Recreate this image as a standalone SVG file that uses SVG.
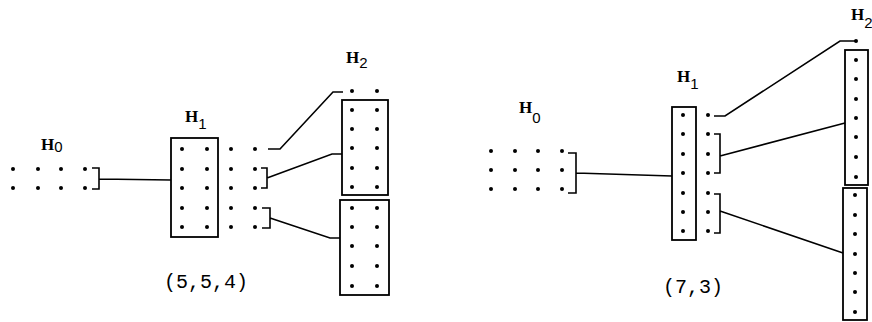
<svg xmlns="http://www.w3.org/2000/svg" width="872" height="322" viewBox="0 0 872 322">
<style>
.d{fill:#000}
.box{fill:none;stroke:#000;stroke-width:1.8}
.c{fill:none;stroke:#000;stroke-width:1.6;stroke-linejoin:miter}
.lbl{font-family:"Liberation Serif","DejaVu Serif",serif;font-weight:bold;font-size:17px;fill:#000}
.sub{font-family:"Liberation Sans","DejaVu Sans",sans-serif;font-weight:normal;font-size:15px}
.cap{font-family:"Liberation Mono","DejaVu Sans Mono",monospace;font-size:20px;fill:#000}
</style>
<rect width="872" height="322" fill="#fff"/>
<defs><circle id="dot" r="2" class="d"/></defs>

<!-- Left diagram -->
<g id="L-H0">
<text class="lbl" x="41" y="150">H<tspan class="sub" dy="2">0</tspan></text>
<g>
<use href="#dot" x="13" y="169"/><use href="#dot" x="38" y="169"/><use href="#dot" x="61" y="169"/><use href="#dot" x="85" y="169"/>
<use href="#dot" x="13" y="188"/><use href="#dot" x="38" y="188"/><use href="#dot" x="61" y="188"/><use href="#dot" x="85" y="188"/>
</g>
</g>
<g id="L-H1">
<text class="lbl" x="185" y="122">H<tspan class="sub" dy="7">1</tspan></text>
<rect class="box" x="171" y="138" width="47" height="99"/>
<use href="#dot" x="182" y="149"/><use href="#dot" x="207" y="149"/>
<use href="#dot" x="182" y="169"/><use href="#dot" x="207" y="169"/>
<use href="#dot" x="182" y="188"/><use href="#dot" x="207" y="188"/>
<use href="#dot" x="182" y="208"/><use href="#dot" x="207" y="208"/>
<use href="#dot" x="182" y="227"/><use href="#dot" x="207" y="227"/>
<use href="#dot" x="231" y="149"/><use href="#dot" x="255" y="149"/>
<use href="#dot" x="231" y="169"/><use href="#dot" x="255" y="169"/>
<use href="#dot" x="231" y="188"/><use href="#dot" x="255" y="188"/>
<use href="#dot" x="231" y="208"/><use href="#dot" x="255" y="208"/>
<use href="#dot" x="231" y="227"/><use href="#dot" x="255" y="227"/>
</g>
<g id="L-H2">
<text class="lbl" x="346" y="63">H<tspan class="sub" dy="5">2</tspan></text>
<use href="#dot" x="352" y="91"/><use href="#dot" x="377" y="91"/>
<rect class="box" x="342" y="100" width="46" height="95"/>
<use href="#dot" x="352" y="110"/><use href="#dot" x="377" y="110"/>
<use href="#dot" x="352" y="129"/><use href="#dot" x="377" y="129"/>
<use href="#dot" x="352" y="148"/><use href="#dot" x="377" y="148"/>
<use href="#dot" x="352" y="168"/><use href="#dot" x="377" y="168"/>
<use href="#dot" x="352" y="187"/><use href="#dot" x="377" y="187"/>
<rect class="box" x="340" y="200" width="49" height="95"/>
<use href="#dot" x="352" y="208"/><use href="#dot" x="377" y="208"/>
<use href="#dot" x="352" y="227"/><use href="#dot" x="377" y="227"/>
<use href="#dot" x="352" y="246"/><use href="#dot" x="377" y="246"/>
<use href="#dot" x="352" y="266"/><use href="#dot" x="377" y="266"/>
<use href="#dot" x="352" y="286"/><use href="#dot" x="377" y="286"/>
</g>
<text class="cap" x="164" y="288">(5,5,4)</text>

<!-- Right diagram -->
<g id="R-H0">
<text class="lbl" x="519" y="113">H<tspan class="sub" dy="10">0</tspan></text>
<use href="#dot" x="491" y="151"/><use href="#dot" x="515" y="151"/><use href="#dot" x="538" y="151"/><use href="#dot" x="562" y="151"/>
<use href="#dot" x="491" y="170"/><use href="#dot" x="515" y="170"/><use href="#dot" x="538" y="170"/><use href="#dot" x="562" y="170"/>
<use href="#dot" x="491" y="189"/><use href="#dot" x="515" y="189"/><use href="#dot" x="538" y="189"/><use href="#dot" x="562" y="189"/>
</g>
<g id="R-H1">
<text class="lbl" x="677" y="82">H<tspan class="sub" dy="7">1</tspan></text>
<rect class="box" x="672" y="107" width="24" height="133"/>
<use href="#dot" x="683" y="115"/><use href="#dot" x="683" y="134"/><use href="#dot" x="683" y="154"/><use href="#dot" x="683" y="173"/><use href="#dot" x="683" y="193"/><use href="#dot" x="683" y="212"/><use href="#dot" x="683" y="231"/>
<use href="#dot" x="708" y="115"/><use href="#dot" x="708" y="134"/><use href="#dot" x="708" y="154"/><use href="#dot" x="708" y="173"/><use href="#dot" x="708" y="193"/><use href="#dot" x="708" y="212"/><use href="#dot" x="708" y="231"/>
</g>
<g id="R-H2">
<text class="lbl" x="851" y="20">H<tspan class="sub" dy="8">2</tspan></text>
<use href="#dot" x="856" y="41"/>
<rect class="box" x="845" y="50" width="23" height="135"/>
<use href="#dot" x="856" y="60"/><use href="#dot" x="856" y="79"/><use href="#dot" x="856" y="99"/><use href="#dot" x="856" y="118"/><use href="#dot" x="856" y="137"/><use href="#dot" x="856" y="157"/><use href="#dot" x="856" y="177"/>
<rect class="box" x="843" y="188" width="24" height="132"/>
<use href="#dot" x="855" y="195"/><use href="#dot" x="855" y="215"/><use href="#dot" x="855" y="234"/><use href="#dot" x="855" y="254"/><use href="#dot" x="855" y="273"/><use href="#dot" x="855" y="292"/><use href="#dot" x="855" y="312"/>
</g>
<text class="cap" x="663" y="293">(7,3)</text>

<g id="connectors">
<path class="c" d="M92 168 H99 V189 H92 M99 179 L171 180"/>
<path class="c" d="M268 149 H280 L333 92 H343"/>
<path class="c" d="M261 168 H267 V188 H261 M267 178 L332 154 H342"/>
<path class="c" d="M262 208 H270 V228 H262 M270 218 L330 238 H340"/>
<path class="c" d="M568 153 H576 V193 H568 M576 173 L672 176"/>
<path class="c" d="M714 116 H725 L840 41 H855"/>
<path class="c" d="M714 134 H720 V173 H714 M720 156 L845 123"/>
<path class="c" d="M714 194 H720 V233 H714 M720 211 L843 253"/>
</g>
</svg>
